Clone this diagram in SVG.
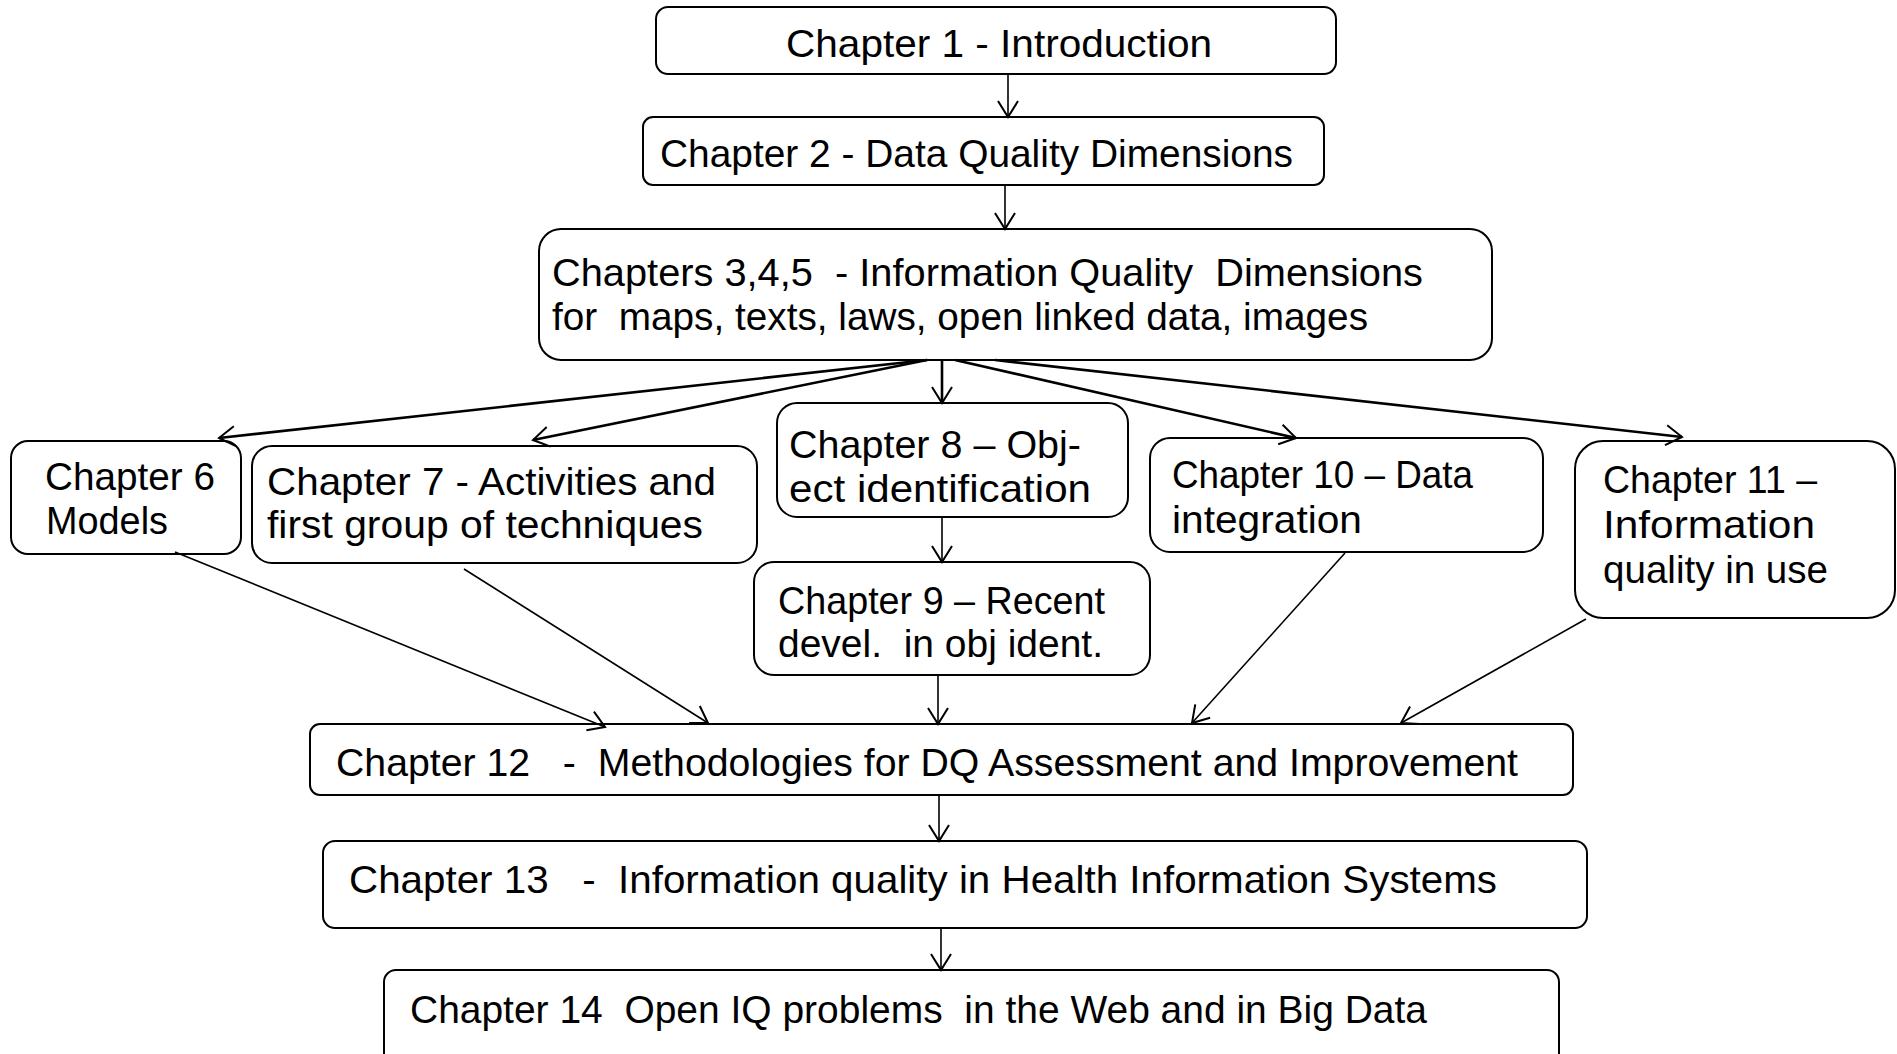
<svg xmlns="http://www.w3.org/2000/svg" width="1897" height="1054" viewBox="0 0 1897 1054">
<style>
.box{fill:#fff;stroke:#000;stroke-width:2}
.t{font-family:"Liberation Sans",Arial,sans-serif;font-size:39px;fill:#000;white-space:pre}
.c{fill:none;stroke:#000;stroke-width:1.6;marker-end:url(#arr)}
.k{stroke-width:2.6}
</style>
<defs>
<marker id="arr" markerUnits="userSpaceOnUse" markerWidth="20" markerHeight="24" viewBox="0 0 20 24" refX="18" refY="12" orient="auto">
<path d="M2,2 L18,12 L2,22" fill="none" stroke="#000" stroke-width="2"/>
</marker>
</defs>
<rect width="1897" height="1054" fill="#fff"/>
<g id="ch1"><rect class="box" x="656" y="7" width="680" height="67" rx="12"/>
<text class="t" x="786" y="57" textLength="426" lengthAdjust="spacingAndGlyphs">Chapter 1 - Introduction</text></g>
<g id="ch2"><rect class="box" x="643" y="117" width="681" height="68" rx="10"/>
<text class="t" x="660" y="167" textLength="633" lengthAdjust="spacingAndGlyphs">Chapter 2 - Data Quality Dimensions</text></g>
<g id="ch3"><rect class="box" x="539" y="229" width="953" height="131" rx="22"/>
<text class="t" x="552" y="286" textLength="871" lengthAdjust="spacingAndGlyphs">Chapters 3,4,5  - Information Quality  Dimensions</text>
<text class="t" x="552" y="330" textLength="816" lengthAdjust="spacingAndGlyphs">for  maps, texts, laws, open linked data, images</text></g>
<g id="ch6"><rect class="box" x="11" y="441" width="230" height="113" rx="17"/>
<text class="t" x="45" y="490" textLength="170" lengthAdjust="spacingAndGlyphs">Chapter 6</text>
<text class="t" x="46" y="534" textLength="122" lengthAdjust="spacingAndGlyphs">Models</text></g>
<g id="ch7"><rect class="box" x="252" y="446" width="505" height="117" rx="20"/>
<text class="t" x="267" y="495" textLength="449" lengthAdjust="spacingAndGlyphs">Chapter 7 - Activities and</text>
<text class="t" x="267" y="538" textLength="436" lengthAdjust="spacingAndGlyphs">first group of techniques</text></g>
<g id="ch8"><rect class="box" x="777" y="403" width="351" height="114" rx="20"/>
<text class="t" x="789" y="458" textLength="292" lengthAdjust="spacingAndGlyphs">Chapter 8 – Obj-</text>
<text class="t" x="789" y="502" textLength="302" lengthAdjust="spacingAndGlyphs">ect identification</text></g>
<g id="ch9"><rect class="box" x="754" y="562" width="396" height="113" rx="20"/>
<text class="t" x="778" y="614" textLength="327" lengthAdjust="spacingAndGlyphs">Chapter 9 – Recent</text>
<text class="t" x="778" y="657" textLength="325" lengthAdjust="spacingAndGlyphs">devel.  in obj ident.</text></g>
<g id="ch10"><rect class="box" x="1150" y="438" width="393" height="114" rx="20"/>
<text class="t" x="1172" y="488" textLength="301" lengthAdjust="spacingAndGlyphs">Chapter 10 – Data</text>
<text class="t" x="1172" y="533" textLength="190" lengthAdjust="spacingAndGlyphs">integration</text></g>
<g id="ch11"><rect class="box" x="1575" y="441" width="320" height="177" rx="28"/>
<text class="t" x="1603" y="493" textLength="214" lengthAdjust="spacingAndGlyphs">Chapter 11 –</text>
<text class="t" x="1603" y="538" textLength="212" lengthAdjust="spacingAndGlyphs">Information</text>
<text class="t" x="1603" y="583" textLength="225" lengthAdjust="spacingAndGlyphs">quality in use</text></g>
<g id="ch12"><rect class="box" x="310" y="724" width="1263" height="71" rx="10"/>
<text class="t" x="336" y="776" textLength="1182" lengthAdjust="spacingAndGlyphs">Chapter 12   -  Methodologies for DQ Assessment and Improvement</text></g>
<g id="ch13"><rect class="box" x="323" y="841" width="1264" height="87" rx="12"/>
<text class="t" x="349" y="893" textLength="1148" lengthAdjust="spacingAndGlyphs">Chapter 13   -  Information quality in Health Information Systems</text></g>
<g id="ch14"><rect class="box" x="384" y="970" width="1175" height="110" rx="12"/>
<text class="t" x="410" y="1023" textLength="1017" lengthAdjust="spacingAndGlyphs">Chapter 14  Open IQ problems  in the Web and in Big Data</text></g>
<g id="connectors">
<line class="c" x1="1008" y1="74" x2="1008" y2="117"/>
<line class="c" x1="1005" y1="185" x2="1005" y2="229"/>
<line class="c k" x1="927" y1="360" x2="219" y2="438"/>
<line class="c k" x1="927" y1="360" x2="533" y2="440"/>
<line class="c k" x1="942" y1="360" x2="942" y2="403"/>
<line class="c k" x1="955" y1="360" x2="1296" y2="438"/>
<line class="c k" x1="995" y1="360" x2="1682" y2="437"/>
<line class="c" x1="942" y1="517" x2="942" y2="562"/>
<line class="c" x1="175" y1="552" x2="605" y2="727"/>
<line class="c" x1="464" y1="569" x2="708" y2="723"/>
<line class="c" x1="938" y1="675" x2="938" y2="724"/>
<line class="c" x1="1345" y1="553" x2="1192" y2="723"/>
<line class="c" x1="1586" y1="619" x2="1401" y2="723"/>
<line class="c" x1="939" y1="795" x2="939" y2="841"/>
<line class="c" x1="941" y1="928" x2="941" y2="970"/>
</g>
</svg>
